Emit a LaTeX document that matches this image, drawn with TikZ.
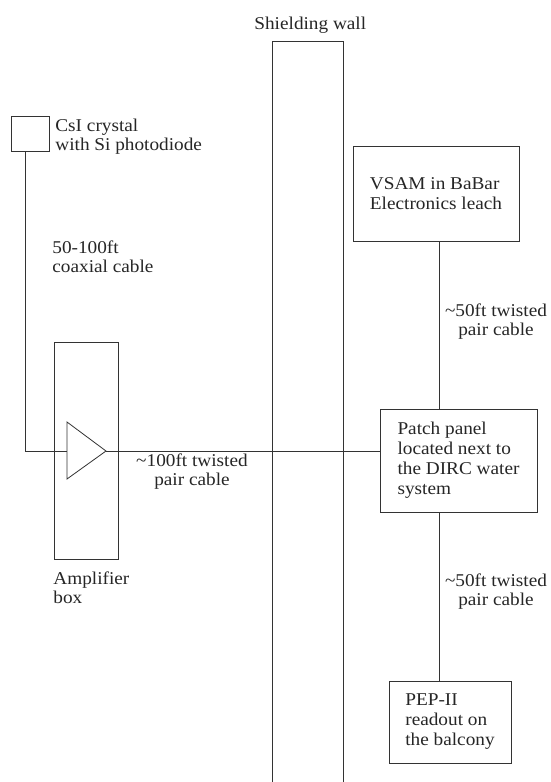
\documentclass[tikz,border=0pt]{standalone}
\usepackage{fontspec}
\setmainfont{Liberation Serif}[FakeStretch=1.07]
\newcommand\lblfont{\fontsize{18}{18.5}\selectfont}
\newcommand\boxfont{\fontsize{18}{20}\selectfont}
\begin{document}
\begin{tikzpicture}[x=1pt,y=-1pt,
  line width=0.8pt,
  linecol/.style={draw=black!80},
  box/.style={linecol, inner sep=0pt, align=left, font=\boxfont, text=black!85},
  lbl/.style={inner sep=0pt, align=left, anchor=base west, font=\lblfont, text=black!85},
  clbl/.style={inner sep=0pt, align=center, anchor=base, font=\lblfont, text=black!85}]
\useasboundingbox (0,0) rectangle (550,782);
\fill[white] (0,0) rectangle (550,782);
% shielding wall (open at bottom)
\coordinate (wallbl) at (272,782);
\coordinate (walltl) at (272,41);
\coordinate (walltr) at (343,41);
\coordinate (wallbr) at (343,782);
\draw[linecol] (wallbl) -- (walltl) -- (walltr) -- (wallbr);
\node[lbl] (walllbl) at (254,29) {Shielding wall};
% CsI crystal
\node[box, minimum width=38pt, minimum height=35pt] (csi) at (30,133.5) {};
\node[lbl] (csilbl) at (55,150) {CsI crystal\\with Si photodiode};
\node[lbl] (coaxlbl) at (52,272) {50-100ft\\coaxial cable};
% amplifier box
\node[box, minimum width=64pt, minimum height=217pt] (ampbox) at (86,450.5) {};
\node[lbl] (amplbl) at (53,603) {Amplifier\\box};
\coordinate (trin) at (67,451);
\coordinate (trtop) at (67,422);
\coordinate (trbot) at (67,479);
\coordinate (trout) at (106,451);
\draw[linecol] (trtop) -- (trout) -- (trbot) -- cycle;
\coordinate (csiout) at (25,151);
\coordinate (csibend) at (25,451);
\draw[linecol] (csiout) -- (csibend) -- (trin);
% right side boxes
\node[box, minimum width=166pt, minimum height=95pt] (vsam) at (436,193.5) {VSAM in BaBar\\Electronics leach};
\node[box, minimum width=157pt, minimum height=103pt] (patch) at (458.5,460.5) {Patch panel\\located next to\\the DIRC water\\system};
\node[box, minimum width=122pt, minimum height=82pt] (pep) at (450,722) {PEP-II\\readout on\\the balcony};
% connectors
\coordinate (patchin) at (380,451);
\draw[linecol] (trout) -- (patchin);
\coordinate (vsamout) at (439,241);
\coordinate (patchtop) at (439,409);
\coordinate (patchbot) at (439,512);
\coordinate (peptop) at (439,681);
\draw[linecol] (vsamout) -- (patchtop);
\draw[linecol] (patchbot) -- (peptop);
% cable labels
\node[clbl] (cable100) at (192,485) {\textasciitilde100ft twisted\\pair cable};
\node[clbl] (cable50a) at (496,335) {\textasciitilde50ft twisted\\pair cable};
\node[clbl] (cable50b) at (496,605) {\textasciitilde50ft twisted\\pair cable};
\end{tikzpicture}
\end{document}
